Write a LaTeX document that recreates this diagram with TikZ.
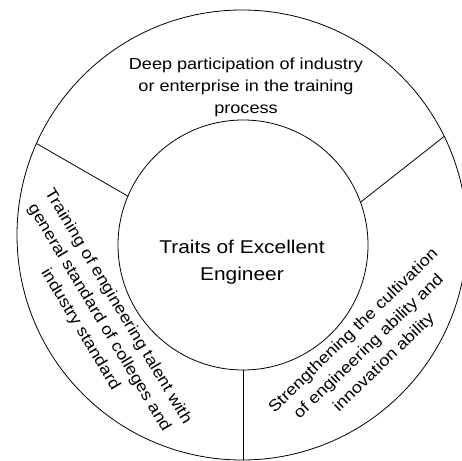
\documentclass[tikz,border=0pt]{standalone}
\usepackage{fontspec}
\setmainfont{Liberation Sans}

\begin{document}
\begin{tikzpicture}[x=1pt, y=1pt, line width=0.8pt,
    disc/.style={circle, draw, inner sep=0pt, outer sep=0pt},
    trait/.style={align=center, rotate=#1, xscale=1.13, font=\fontsize{16}{22}\selectfont},
    trait/.default=0]
    \clip (0,0) rectangle (462,460);

    % outer ring and inner core
    \node[disc, minimum size=450pt] (ring) at (242,225) {};
    \node[disc, minimum size=250pt] (core) at (243,215) {};

    % three sectors of the ring
    \draw (core.157.5) -- (ring.156.4);
    \draw (core.20) -- (ring.26);
    \draw (core.south) -- (core.south |- ring.south);

    \node[align=center, xscale=1.13, font=\fontsize{18.5}{27}\selectfont] (traits) at (242,198)
        {Traits of Excellent\\Engineer};
    \node[trait] (industry) at (246,373)
        {Deep participation of industry\\or enterprise in the training\\process};
    \node[trait=-59] (standard) at (99,142)
        {Training of engineering talent with\\general standard of colleges and\\industry standard};
    \node[trait=44] (ability) at (369,113)
        {Strengthening the cultivation\\of engineering ability and\\innovation ability};
\end{tikzpicture}
\end{document}
